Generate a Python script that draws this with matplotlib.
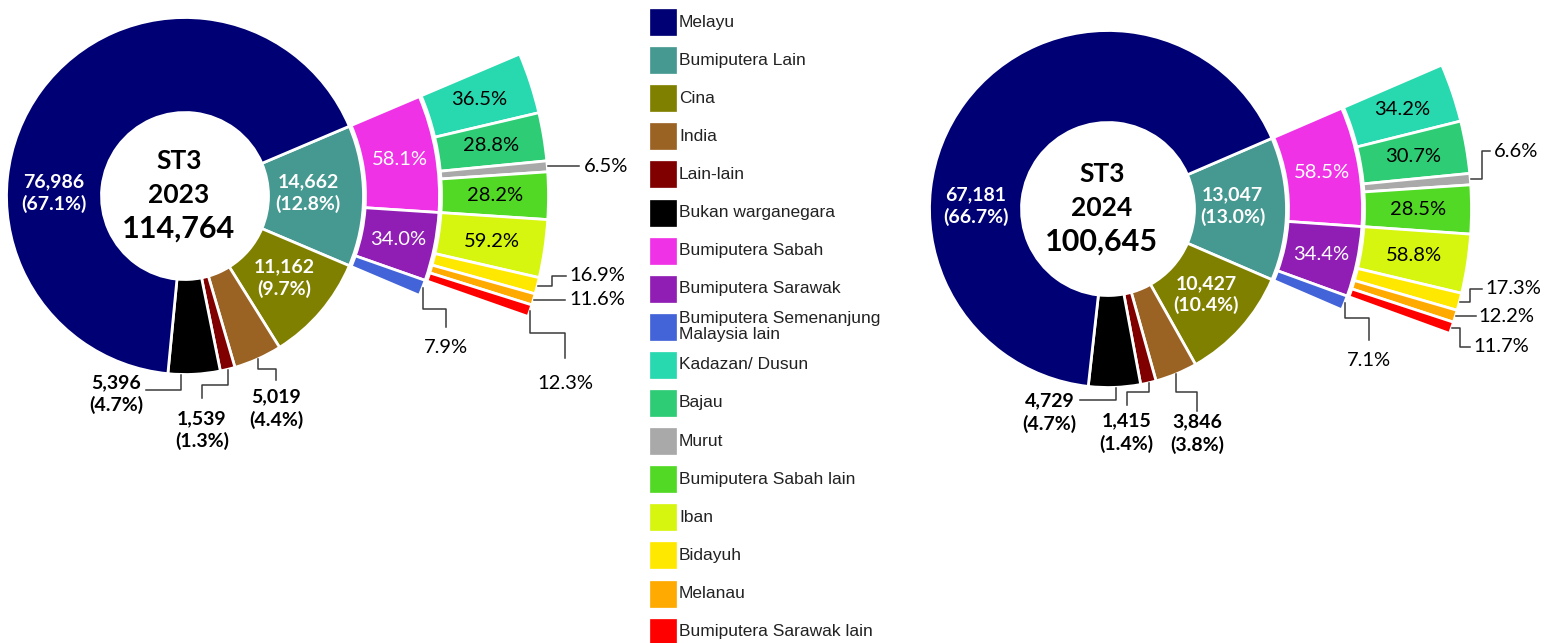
import numpy as np
import matplotlib.pyplot as plt
from matplotlib.patches import Rectangle

plt.rcParams['font.family'] = ['Lato', 'DejaVu Sans']

# kumpulan utama
groups = ["Melayu", "Bumiputera Lain", "Cina", "India", "Lain-lain", "Bukan warganegara"]
group_colors = ["#000075", "#469990", "#808000", "#9A6324", "#800000", "#000000"]
bl_groups = ["Bumiputera Sabah", "Bumiputera Sarawak", "Bumiputera Semenanjung\nMalaysia lain"]
bl_colors = ["#F032E6", "#911EB4", "#4363D8"]
sabah_groups = ["Kadazan/ Dusun", "Bajau", "Murut", "Bumiputera Sabah lain"]
sabah_colors = ["#28D8AE", "#2ECC75", "#A9A9A9", "#52D926"]
sarawak_groups = ["Iban", "Bidayuh", "Melanau", "Bumiputera Sarawak lain"]
sarawak_colors = ["#D6F50F", "#FFE800", "#FFAA00", "#FF0000"]

counts_2023 = [76986, 14662, 11162, 5019, 1539, 5396]
pct_2023 = [67.1, 12.8, 9.7, 4.4, 1.3, 4.7]
bl_pct_2023 = [58.1, 34.0, 7.9]
sabah_pct_2023 = [36.5, 28.8, 6.5, 28.2]
sarawak_pct_2023 = [59.2, 16.9, 11.6, 12.3]

counts_2024 = [67181, 13047, 10427, 3846, 1415, 4729]
pct_2024 = [66.7, 13.0, 10.4, 3.8, 1.4, 4.7]
bl_pct_2024 = [58.5, 34.4, 7.1]
sabah_pct_2024 = [34.2, 30.7, 6.6, 28.5]
sarawak_pct_2024 = [58.8, 17.3, 12.2, 11.7]

W, H = 1545, 643
fig = plt.figure(figsize=(W / 100, H / 100), dpi=100)
ax = fig.add_axes([0, 0, 1, 1])

R1, R2_in, R2, R3_in, R3 = 178.5, 180.5, 254.5, 256.5, 363.5
EDGE = dict(edgecolor="white", linewidth=2)
LINE = dict(color="#3a3a3a", lw=1.1)
FS_B = 14      # label tebal
FS_P = 14.5    # label peratus


def polar(c, ang, r):
    a = np.deg2rad(ang)
    return c[0] + r * np.cos(a), c[1] + r * np.sin(a)


def leader(c, w, r, t, steps, off, ha, va, txt, bold):
    ang = w.theta2 - t * (w.theta2 - w.theta1)
    x, y = polar(c, ang, r)
    xs, ys = [x], [y]
    for dx, dy in steps:
        x, y = x + dx, y + dy
        xs.append(x)
        ys.append(y)
    ax.plot(xs, ys, **LINE)
    ax.text(x + off[0], y + off[1], txt, ha=ha, va=va,
            fontsize=FS_B if bold else FS_P,
            fontweight="bold" if bold else "normal", multialignment="center",
            linespacing=1.35)


def donut(year, counts, pct, bl_pct, sabah_pct, sarawak_pct, c, r_in, lead):
    total = sum(counts)
    order = [1, 2, 3, 4, 5, 0]  # searah jam bermula Bumiputera Lain
    bl_frac = counts[1] / total
    start = 180 * bl_frac
    w1, _ = ax.pie([counts[i] for i in order], colors=[group_colors[i] for i in order],
                   radius=R1, center=c, startangle=start, counterclock=False,
                   wedgeprops=dict(width=R1 - r_in, **EDGE), frame=False)
    w2, _ = ax.pie(np.array(bl_pct) / 100 * bl_frac, normalize=False, colors=bl_colors,
                   radius=R2, center=c, startangle=start, counterclock=False,
                   wedgeprops=dict(width=R2 - R2_in, **EDGE), frame=False)
    sab = bl_pct[0] / 100 * bl_frac
    w3a, _ = ax.pie(np.array(sabah_pct) / 100 * sab, normalize=False, colors=sabah_colors,
                    radius=R3, center=c, startangle=start, counterclock=False,
                    wedgeprops=dict(width=R3 - R3_in, **EDGE), frame=False)
    sar = bl_pct[1] / 100 * bl_frac
    w3b, _ = ax.pie(np.array(sarawak_pct) / 100 * sar, normalize=False, colors=sarawak_colors,
                    radius=R3, center=c, startangle=start - 360 * sab, counterclock=False,
                    wedgeprops=dict(width=R3 - R3_in, **EDGE), frame=False)

    # label dalam cincin utama
    rm = (R1 + r_in) / 2
    for k, i in enumerate(order):
        if i in (0, 1, 2):
            w = w1[k]
            ang = 180 if i == 0 else (w.theta1 + w.theta2) / 2
            rr = rm - 8 if i == 1 else rm
            x, y = polar(c, ang, rr)
            ax.text(x, y + 3, f"{counts[i]:,}\n({pct[i]:.1f}%)", ha="center", va="center",
                    color="white", fontsize=FS_B, fontweight="bold", linespacing=1.3)
    rm2 = (R2 + R2_in) / 2
    for k in (0, 1):
        w = w2[k]
        x, y = polar(c, (w.theta1 + w.theta2) / 2, rm2)
        ax.text(x, y, f"{bl_pct[k]:.1f}%", ha="center", va="center", color="white", fontsize=FS_P)
    rm3 = (R3 + R3_in) / 2
    for ws, vals in ((w3a, sabah_pct), (w3b, sarawak_pct)):
        for k in range(len(vals)):
            if vals[k] > 20:
                w = ws[k]
                x, y = polar(c, (w.theta1 + w.theta2) / 2, rm3)
                ax.text(x, y, f"{vals[k]:.1f}%", ha="center", va="center", color="black", fontsize=FS_P)

    # label di luar dengan garis penunjuk
    rings = {"main": (w1, R1), "bl": (w2, R2), "sab": (w3a, R3), "sar": (w3b, R3)}
    for ring, idx, t, steps, off, ha, va in lead:
        ws, rr = rings[ring]
        if ring == "main":
            w = ws[order.index(idx)]
            txt, bold = f"{counts[idx]:,}\n({pct[idx]:.1f}%)", True
        else:
            w = ws[idx]
            vals = {"bl": bl_pct, "sab": sabah_pct, "sar": sarawak_pct}[ring]
            txt, bold = f"{vals[idx]:.1f}%", False
        leader(c, w, rr + 0.5, t, steps, off, ha, va, txt, bold)

    # teks tengah
    ax.text(c[0] - 6, c[1] + 35, "ST3", ha="center", va="center", fontsize=19, fontweight="bold")
    ax.text(c[0] - 6, c[1] + 1, str(year), ha="center", va="center", fontsize=19, fontweight="bold")
    ax.text(c[0] - 6, c[1] - 33, f"{total:,}", ha="center", va="center", fontsize=22, fontweight="bold")


lead_2023 = [
    ("main", 5, 0.75, [(0, -15), (-35, 0)], (-3, -4), "right", "center"),
    ("main", 4, 0.5, [(0, -15), (-26, 0), (0, -13)], (0, -12), "center", "top"),
    ("main", 3, 0.5, [(0, -10), (18, 0), (0, -11)], (0, -8), "center", "top"),
    ("sab", 2, 0.5, [(31, 0)], (5, 0), "left", "center"),
    ("sar", 1, 0.5, [(14, 0), (0, 10), (14, 0)], (4, 0), "left", "center"),
    ("sar", 2, 0.5, [(31, 0)], (4, 0), "left", "center"),
    ("bl", 2, 0.5, [(0, -21), (23, 0), (0, -18)], (0, -12), "center", "top"),
    ("sar", 3, 0.5, [(0, -22), (35, 0), (0, -25)], (0, -17), "center", "top"),
]
lead_2024 = [
    ("main", 5, 0.48, [(0, -12), (-36, 0)], (-3, -13), "right", "center"),
    ("main", 4, 0.5, [(0, -9), (-22, 0), (0, -13)], (0, -7), "center", "top"),
    ("main", 3, 0.5, [(0, -18), (21, 0), (0, -19)], (0, -2), "center", "top"),
    ("sab", 2, 0.5, [(11, 0), (0, 28), (8, 0)], (4, 0), "left", "center"),
    ("sar", 1, 0.5, [(10, 0), (0, 13), (12, 0)], (3, 0), "left", "center"),
    ("sar", 2, 0.5, [(20, 0)], (3, 0), "left", "center"),
    ("sar", 3, 0.5, [(8, 0), (0, -19), (10, 0)], (3, 0), "left", "center"),
    ("bl", 2, 0.5, [(0, -15), (24, 0), (0, -22)], (0, -12), "center", "top"),
]

donut(2023, counts_2023, pct_2023, bl_pct_2023, sabah_pct_2023, sarawak_pct_2023,
      (185, H - 196), 83.5, lead_2023)
donut(2024, counts_2024, pct_2024, bl_pct_2024, sabah_pct_2024, sarawak_pct_2024,
      (1108, H - 209), 86.5, lead_2024)

# legend
names = groups + bl_groups + sabah_groups + sarawak_groups
colors = group_colors + bl_colors + sabah_colors + sarawak_colors
for i, (n, col) in enumerate(zip(names, colors)):
    yc = H - (22 + 38.1 * i)
    ax.add_patch(Rectangle((650, yc - 13), 26, 26, facecolor=col, edgecolor=col, lw=0.5))
    ax.text(679, yc, n, ha="left", va="center", fontsize=12.5, family="Liberation Sans",
            color="#222222", linespacing=1.1)

ax.set_xlim(0, W)
ax.set_ylim(0, H)
ax.set_aspect("equal")
ax.axis("off")
fig.savefig("out.png", dpi=100, facecolor="white")
